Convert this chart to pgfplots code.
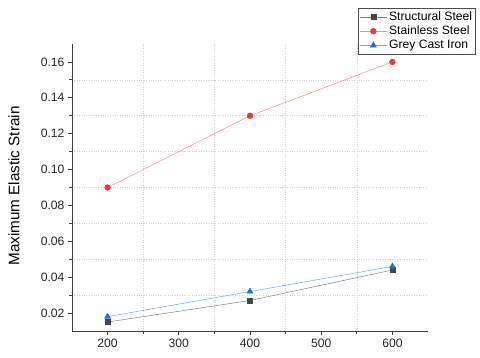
\documentclass[border=0pt]{standalone}
\usepackage{fontspec}
\setmainfont{Liberation Sans}
\usepackage{pgfplots}
\pgfplotsset{compat=1.18}
\definecolor{ssmark}{HTML}{454545}
\definecolor{ssline}{HTML}{808080}
\definecolor{stmark}{HTML}{F03535}
\definecolor{stline}{HTML}{F48A8A}
\definecolor{gcmark}{HTML}{1E6FE6}
\definecolor{gcline}{HTML}{74A4EE}
\begin{document}
\begin{tikzpicture}
\begin{axis}[
  scale only axis,
  width=356bp, height=287bp,
  xmin=150, xmax=650, ymin=0.01, ymax=0.17,
  xtick={200,300,400,500,600},
  ytick={0.02,0.04,0.06,0.08,0.10,0.12,0.14,0.16},
  minor x tick num=1, minor y tick num=1,
  axis x line*=bottom, axis y line*=left,
  axis line style={color=black!75, line width=0.9pt},
  tick style={color=black!75, line width=0.8pt},
  major tick length=4bp, minor tick length=2.5bp,
  tick align=outside,
  minor grid style={dotted, gray!35, line width=0.5pt},
  xminorgrids=true, yminorgrids=true,
  /pgf/number format/assume math mode=true,
  yticklabel style={/pgf/number format/fixed, /pgf/number format/precision=2, /pgf/number format/fixed zerofill},
  scaled y ticks=false,
  tick label style={font=\fontsize{12.2}{14}\selectfont, color=black!85},
  ylabel={Maximum Elastic Strain},
  ylabel style={font=\fontsize{15.3}{17}\selectfont, at={(axis description cs:-0.163,0.505)}, anchor=center},
  legend cell align=left,
  legend style={at={(1,1)}, anchor=north east, xshift=48bp, yshift=36bp,
    font=\fontsize{12.2}{14}\selectfont, draw=black!70, line width=0.6pt,
    inner sep=1.5pt, row sep=0pt,
    /tikz/every even column/.append style={column sep=0pt}},
  legend image code/.code={
    \draw[#1, mark repeat=2, mark phase=2] plot coordinates {(0bp,0bp) (13.5bp,0bp) (27bp,0bp)};
  },
]
\addplot[color=ssline, line width=0.5pt, mark=square*, mark size=2.5pt, mark options={draw=ssmark, fill=ssmark}]
  coordinates {(200,0.015) (400,0.027) (600,0.044)};
\addlegendentry{Structural Steel}
\addplot[color=stline, line width=0.5pt, mark=*, mark size=2.9pt, mark options={draw=stmark, fill=stmark}]
  coordinates {(200,0.090) (400,0.130) (600,0.160)};
\addlegendentry{Stainless Steel}
\addplot[color=gcline, line width=0.5pt, mark=triangle*, mark size=3.4pt, mark options={draw=gcmark, fill=gcmark}]
  coordinates {(200,0.018) (400,0.032) (600,0.046)};
\addlegendentry{Grey Cast Iron}
\end{axis}
\pgfresetboundingbox
\path[use as bounding box] (current axis.south west) ++(-72bp,-27bp) rectangle ++(480bp,358bp);
\end{tikzpicture}
\end{document}
